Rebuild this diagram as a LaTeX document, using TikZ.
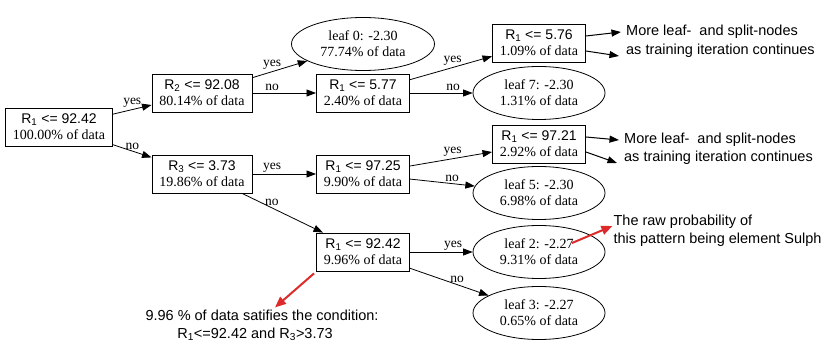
\documentclass[tikz,border=0pt]{standalone}
\usepackage{fontspec}
\setmainfont{Liberation Serif}
\setsansfont{Liberation Sans}
\usepackage{tikz}
\usetikzlibrary{arrows.meta,positioning,calc,shapes.geometric}
\definecolor{hintred}{HTML}{DD2B2B}
\tikzset{
  splitbox/.style={draw,line width=0.8pt,rectangle,align=center,minimum height=38pt,
                   inner xsep=7.5pt,font=\fontsize{14}{16}\selectfont},
  leafnode/.style={draw,line width=0.8pt,ellipse,align=center,minimum width=132pt,
                   minimum height=53pt,inner sep=0pt,font=\fontsize{14}{16}\selectfont},
  branch/.style={-{Triangle[length=9.5pt,width=7pt]},line width=0.8pt},
  branchlabel/.style={font=\fontsize{13.5}{15}\selectfont,above,inner sep=1.5pt},
  notetext/.style={font=\sffamily\fontsize{14.5}{18}\selectfont,inner sep=1pt},
  notearrow/.style={-{Triangle[length=9.5pt,width=7pt]},line width=1pt},
  hintarrow/.style={-{Triangle[length=11pt,width=9pt]},line width=2pt,draw=hintred}
}
\newcommand{\splitcond}[2]{\textsf{R\textsubscript{#1} <= #2}}

\begin{document}
\begin{tikzpicture}[on grid]
    \useasboundingbox (0,0) rectangle (830pt,348pt);

    \node[splitbox] (root) at (59pt,221pt) {\splitcond{1}{92.42}\\100.00\% of data};
    \node[splitbox,above right=34pt and 143pt of root] (r2) {\splitcond{2}{92.08}\\80.14\% of data};
    \node[splitbox,below right=47pt and 143pt of root] (r3) {\splitcond{3}{3.73}\\19.86\% of data};

    \node[leafnode,minimum width=143pt,above right=49pt and 161pt of r2] (leaf0) {leaf 0: -2.30\\77.74\% of data};
    \node[splitbox,right=161pt of r2] (r1a) {\splitcond{1}{5.77}\\2.40\% of data};
    \node[splitbox,right=161pt of r3] (r1b) {\splitcond{1}{97.25}\\9.90\% of data};
    \node[splitbox,below=78pt of r1b] (r1c) {\splitcond{1}{92.42}\\9.96\% of data};

    \node[splitbox,above right=50pt and 176pt of r1a] (r1d) {\splitcond{1}{5.76}\\1.09\% of data};
    \node[leafnode,right=176pt of r1a] (leaf7) {leaf 7: -2.30\\1.31\% of data};
    \node[splitbox,above right=30pt and 176pt of r1b] (r1e) {\splitcond{1}{97.21}\\2.92\% of data};
    \node[leafnode,below right=19pt and 176pt of r1b] (leaf5) {leaf 5: -2.30\\6.98\% of data};
    \node[leafnode,right=176pt of r1c] (leaf2) {leaf 2: -2.27\\9.31\% of data};
    \node[leafnode,below=61pt of leaf2] (leaf3) {leaf 3: -2.27\\0.65\% of data};

    % notes
    \node[notetext,anchor=west] (moreA) at ($(r1d.east)+(39pt,11pt)$) {More leaf-\ \ and split-nodes};
    \node[notetext,anchor=west] (moreB) at ($(r1d.east)+(39pt,-8pt)$) {as training iteration continues};
    \node[notetext,anchor=west] (moreC) at ($(r1e.east)+(37pt,4pt)$) {More leaf-\ \ and split-nodes};
    \node[notetext,anchor=west] (moreD) at ($(r1e.east)+(37pt,-14pt)$) {as training iteration continues};
    \node[notetext,anchor=west,align=left] (raw) at ($(leaf2.east)+(7pt,21pt)$) {The raw probability of\\this pattern being element Sulph};
    \node[notetext,align=center] (condtext) at ($(r1c.center)+(-101pt,-73pt)$) {9.96 \% of data satifies the condition:\\R\textsubscript{1}<=92.42 and R\textsubscript{3}>3.73\hspace*{14pt}};

    \draw[branch] (root) -- node[branchlabel,pos=0.5]{yes} (r2);
    \draw[branch] (root) -- node[branchlabel,pos=0.5]{no} (r3);
    \draw[branch] (r2) -- node[branchlabel,pos=0.36]{yes} (leaf0);
    \draw[branch] (r2) -- node[branchlabel,pos=0.31]{no} (r1a);
    \draw[branch] (r3) -- node[branchlabel,pos=0.31]{yes} (r1b);
    \draw[branch] (r3) -- node[branchlabel,pos=0.37]{no} (r1c);
    \draw[branch] (r1a) -- node[branchlabel,pos=0.52]{yes} (r1d);
    \draw[branch] (r1a) -- node[branchlabel,pos=0.69]{no} (leaf7);
    \draw[branch] (r1b) -- node[branchlabel,pos=0.52]{yes} (r1e);
    \draw[branch] (r1b) -- node[branchlabel,pos=0.65]{no} (leaf5);
    \draw[branch] (r1c) -- node[branchlabel,pos=0.69]{yes} (leaf2);
    \draw[branch] (r1c) -- node[branchlabel,pos=0.6]{no} (leaf3);

    \draw[notearrow] ([yshift=7pt]r1d.east) -- ([xshift=-4pt]moreA.west);
    \draw[notearrow] ([yshift=-8pt]r1d.east) -- ([xshift=-6pt,yshift=-5pt]moreB.west);
    \draw[notearrow] ([yshift=7pt]r1e.east) -- ([xshift=-4pt]moreC.west);
    \draw[notearrow] ([yshift=-8pt]r1e.east) -- ([xshift=-6pt,yshift=-5pt]moreD.west);

    \draw[hintarrow] ([xshift=-2pt,yshift=-2pt]r1c.south west) -- ([xshift=13pt,yshift=1pt]condtext.north);
    \draw[hintarrow] ([xshift=33pt,yshift=9pt]leaf2.center) -- ([yshift=5pt]raw.west);
\end{tikzpicture}
\end{document}
